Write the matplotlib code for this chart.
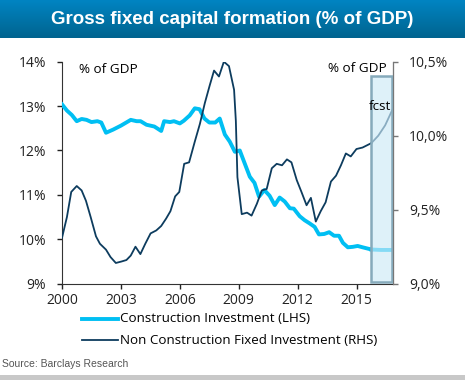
import numpy as np
import matplotlib
matplotlib.use("Agg")
import matplotlib.pyplot as plt
from matplotlib.patches import Rectangle

# construction investment, % of GDP (LHS)
constr_years = [2000.0, 2000.25, 2000.5, 2000.75, 2001.0, 2001.25, 2001.5, 2001.8, 2002.0,
                2002.24, 2002.6, 2003.0, 2003.5, 2003.8, 2004.0, 2004.3, 2004.7, 2005.05,
                2005.2, 2005.5, 2005.7, 2006.0, 2006.2, 2006.5, 2006.76, 2007.0, 2007.25,
                2007.5, 2007.8, 2008.03, 2008.29, 2008.54, 2008.8, 2009.05, 2009.3, 2009.56,
                2009.8, 2010.03, 2010.3, 2010.57, 2010.83, 2011.08, 2011.34, 2011.6, 2011.8,
                2012.1, 2012.35, 2012.6, 2012.86, 2013.08, 2013.35, 2013.6, 2013.85, 2014.1,
                2014.3, 2014.55, 2014.8, 2015.05, 2015.3, 2015.75]
constr_vals = [13.04, 12.90, 12.80, 12.66, 12.71, 12.69, 12.64, 12.66, 12.63,
               12.40, 12.47, 12.56, 12.69, 12.66, 12.66, 12.58, 12.54, 12.44,
               12.66, 12.64, 12.66, 12.61, 12.67, 12.79, 12.95, 12.93, 12.72,
               12.63, 12.63, 12.72, 12.36, 12.20, 11.97, 12.00, 11.71, 11.41,
               11.27, 10.96, 11.11, 10.98, 10.77, 10.94, 10.85, 10.70, 10.69,
               10.52, 10.43, 10.36, 10.28, 10.11, 10.12, 10.16, 10.08, 10.08,
               9.92, 9.82, 9.83, 9.85, 9.82, 9.77]
constr_fc_years = [2015.75, 2016.25, 2016.8]
constr_fc_vals = [9.77, 9.76, 9.76]

# non construction fixed investment, % of GDP (RHS)
nonc_years = [2000.0, 2000.25, 2000.47, 2000.75, 2001.0, 2001.22, 2001.46, 2001.73, 2001.93,
              2002.24, 2002.47, 2002.74, 2003.03, 2003.28, 2003.5, 2003.74, 2003.99, 2004.24,
              2004.51, 2004.8, 2005.05, 2005.3, 2005.52, 2005.76, 2005.97, 2006.22, 2006.47,
              2006.76, 2007.02, 2007.27, 2007.52, 2007.74, 2007.99, 2008.24, 2008.5, 2008.76,
              2008.85, 2008.93, 2009.15, 2009.42, 2009.65, 2009.92, 2010.17, 2010.42, 2010.68,
              2010.93, 2011.2, 2011.45, 2011.68, 2011.95, 2012.19, 2012.45, 2012.67, 2012.92,
              2013.17, 2013.42, 2013.69, 2013.95, 2014.2, 2014.45, 2014.7, 2014.99, 2015.3,
              2015.75]
nonc_vals = [9.31, 9.45, 9.62, 9.66, 9.63, 9.56, 9.45, 9.32, 9.27,
             9.23, 9.18, 9.14, 9.15, 9.16, 9.19, 9.25, 9.20, 9.27,
             9.34, 9.36, 9.39, 9.44, 9.49, 9.59, 9.62, 9.81, 9.82,
             9.96, 10.08, 10.22, 10.34, 10.44, 10.40, 10.50, 10.47, 10.31,
             10.10, 9.72, 9.47, 9.48, 9.46, 9.54, 9.63, 9.64, 9.78,
             9.81, 9.80, 9.84, 9.82, 9.70, 9.62, 9.53, 9.58, 9.42,
             9.49, 9.55, 9.69, 9.73, 9.80, 9.88, 9.86, 9.91, 9.92,
             9.95]
nonc_fc_years = [2015.75, 2016.1, 2016.45, 2016.8]
nonc_fc_vals = [9.95, 10.00, 10.07, 10.17]

x_ticks = [2000, 2003, 2006, 2009, 2012, 2015]
left_ticks = [9, 10, 11, 12, 13, 14]
right_ticks = [9.0, 9.5, 10.0, 10.5]

cyan = '#00bff3'
navy = '#0d3c5e'
font = ['Open Sans', 'DejaVu Sans']

fig = plt.figure(figsize=(4.65, 3.8), dpi=100)

# title banner with gradient
ban = fig.add_axes([0, 1 - 38 / 380, 1, 38 / 380])
grad = np.linspace(0, 1, 50).reshape(-1, 1)
cmap = matplotlib.colors.LinearSegmentedColormap.from_list('b', ['#0084c2', '#00648f'])
ban.imshow(grad, aspect='auto', cmap=cmap, extent=[0, 1, 0, 1])
ban.set_axis_off()
ban.text(0.5, 0.5, 'Gross fixed capital formation (% of GDP)', color='white',
         fontsize=13.5, fontweight='bold', ha='center', va='center',
         family=['Liberation Sans', 'DejaVu Sans'])

ax = fig.add_axes([62 / 465, 1 - 283.7 / 380, (393 - 62) / 465, (283.7 - 61.7) / 380])
ax2 = ax.twinx()

ax.plot(constr_years, constr_vals, color=cyan, lw=2.8, solid_joinstyle='round', zorder=3)
ax.plot(constr_fc_years, constr_fc_vals, color=cyan, lw=2.8, zorder=3)
ax2.plot(nonc_years, nonc_vals, color=navy, lw=1.3, zorder=3)
ax2.plot(nonc_fc_years, nonc_fc_vals, color=navy, lw=1.3, zorder=3)

ax.set_xlim(2000, 2016.85)
ax.set_ylim(9, 14)
ax2.set_ylim(9.0, 10.5)

# forecast box (semi transparent so lines look faded inside)
ax2.add_patch(Rectangle((2015.75, 9.01), 1.05, 10.40 - 9.01, facecolor='#cdeaf7',
                        alpha=0.65, edgecolor='none', zorder=4))
ax2.add_patch(Rectangle((2015.75, 9.01), 1.05, 10.40 - 9.01, facecolor='none',
                        edgecolor='#86aabb', lw=1.8, zorder=5))

ax.set_xticks(x_ticks)
ax.set_xticklabels([str(y) for y in x_ticks])
ax.set_yticks(left_ticks)
ax.set_yticklabels([f'{v}%' for v in left_ticks])
ax2.set_yticks(right_ticks)
ax2.set_yticklabels([f'{v:.1f}%'.replace('.', ',') for v in right_ticks])

for a in (ax, ax2):
    a.spines['top'].set_visible(False)
    a.tick_params(direction='out', length=3.5, width=1, colors='#222222', labelsize=10)
    for lab in a.get_xticklabels() + a.get_yticklabels():
        lab.set_family(font)
ax.spines['left'].set_color('#333333')
ax.spines['bottom'].set_color('#333333')
ax2.spines['right'].set_color('#777777')
ax2.spines['left'].set_visible(False)
ax2.spines['bottom'].set_visible(False)
ax.tick_params(axis='y', pad=8)
ax2.tick_params(axis='y', pad=8, colors='#222222')
ax2.tick_params(axis='y', color='#777777')

ax.text(0.05, 0.965, '% of GDP', transform=ax.transAxes, fontsize=9.7, va='center', family=font)
ax2.text(0.98, 0.97, '% of GDP', transform=ax2.transAxes, fontsize=9.7, va='center', ha='right', family=font)
ax2.text(0.928, 0.80, 'fcst', transform=ax2.transAxes, fontsize=9.7, va='center', family=font, zorder=6)

# legend below
fig.add_artist(plt.Line2D([82 / 465, 118 / 465], [1 - 319 / 380] * 2, color=cyan, lw=2.8))
fig.text(120 / 465, 1 - 319 / 380, 'Construction Investment (LHS)', fontsize=9.6, va='center', family=font)
fig.add_artist(plt.Line2D([82 / 465, 118 / 465], [1 - 340 / 380] * 2, color=navy, lw=1.3))
fig.text(120 / 465, 1 - 340 / 380, 'Non Construction Fixed Investment (RHS)', fontsize=9.6, va='center', family=font)

fig.text(2 / 465, 1 - 364 / 380, 'Source: Barclays Research', fontsize=7.5, color='#555555',
         va='center', family=['Liberation Sans', 'DejaVu Sans'])
fig.add_artist(Rectangle((0, 0), 1, 5 / 380, transform=fig.transFigure, facecolor='#c8c8c8', edgecolor='none'))

fig.savefig('out.png', dpi=100)
